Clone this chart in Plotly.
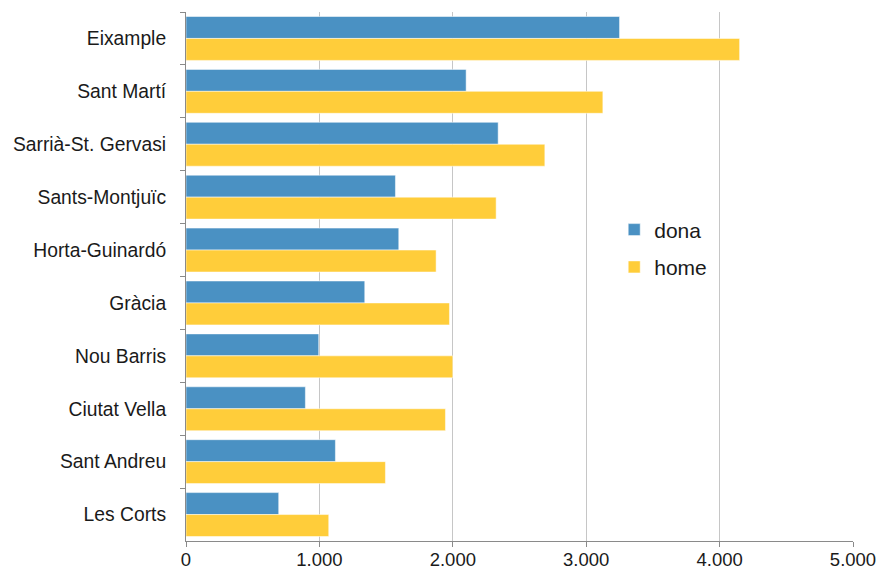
import plotly.graph_objects as go

districts = ["Eixample", "Sant Martí", "Sarrià-St. Gervasi", "Sants-Montjuïc",
             "Horta-Guinardó", "Gràcia", "Nou Barris", "Ciutat Vella",
             "Sant Andreu", "Les Corts"]
dona = [3250, 2100, 2340, 1570, 1595, 1340, 995, 895, 1120, 695]
home = [4150, 3125, 2690, 2325, 1875, 1975, 2000, 1945, 1495, 1070]
tick_vals = [0, 1000, 2000, 3000, 4000, 5000]
tick_labels = ["0", "1.000", "2.000", "3.000", "4.000", "5.000"]

FONT = "Liberation Sans, Arial, sans-serif"

fig = go.Figure()
fig.add_trace(go.Bar(y=districts, x=dona, name="dona", orientation="h",
                     marker=dict(color="#4A91C3", line=dict(color="rgba(255,255,255,0.5)", width=1)),
                     legendgroup="a"))
fig.add_trace(go.Bar(y=districts, x=home, name="home", orientation="h",
                     marker=dict(color="#FFCD3A", line=dict(color="rgba(255,255,255,0.5)", width=1)),
                     legendgroup="b"))

fig.update_layout(
    width=878, height=571,
    margin=dict(l=186, r=25, t=12, b=30),
    paper_bgcolor="white", plot_bgcolor="white",
    barmode="group", bargap=0.17, bargroupgap=0,
    font=dict(family=FONT, size=18.5, color="#1a1a1a"),
    showlegend=True,
    legend=dict(x=0.642, y=0.553, xanchor="left", yanchor="middle",
                font=dict(size=21, color="#1a1a1a"), tracegroupgap=7,
                bgcolor="rgba(0,0,0,0)"),
    xaxis=dict(range=[0, 5000], tickvals=tick_vals, ticktext=tick_labels,
               tickfont=dict(size=18.5),
               showgrid=True, gridcolor="#c6c6c6", gridwidth=1,
               showline=True, linecolor="#8a8a8a", linewidth=1,
               ticks="outside", ticklen=5, tickcolor="#8a8a8a",
               ticklabelstandoff=-3,
               zeroline=False, fixedrange=True, automargin=False),
    yaxis=dict(autorange="reversed", showline=True, linecolor="#8a8a8a", linewidth=1,
               tickfont=dict(size=19.3),
               ticks="outside", ticklen=5, tickcolor="#8a8a8a", tickson="boundaries",
               ticklabelstandoff=15, showgrid=False, zeroline=False, automargin=False),
)

fig.write_html("out.html", config={"displayModeBar": False},
               post_script="document.body.style.margin='0';document.body.style.overflow='hidden';")
